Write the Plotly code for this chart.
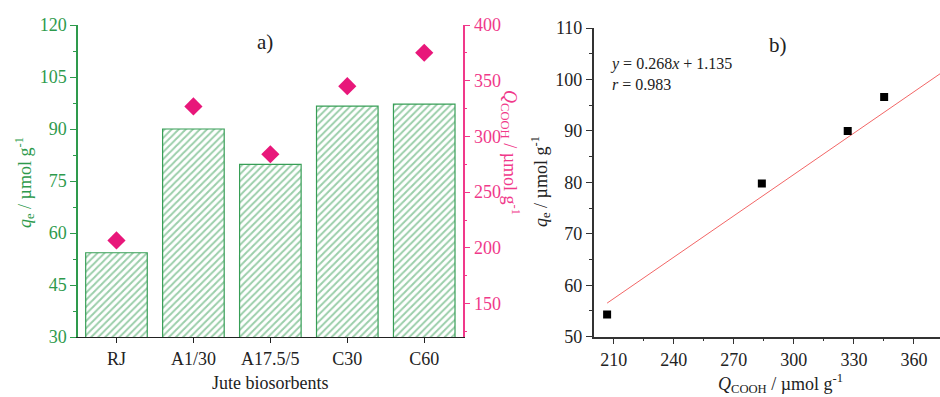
import plotly.graph_objects as go

# Jute biosorbents: sorption capacity and carboxyl content
categories = ["RJ", "A1/30", "A17.5/5", "C30", "C60"]
qe = [54.3, 90.0, 79.8, 96.6, 97.2]          # q_e, µmol/g
q_cooh = [206.7, 326.9, 284.0, 345.1, 375.1]  # Q_COOH, µmol/g

# Linear fit reported for panel b
fit_slope = 0.268
fit_intercept = 1.135
fit_r = 0.983

W, H = 940, 397
FONT = "Liberation Serif"
GREEN = "#2e9a4c"
HATCH = "#379e56"
PINK = "#f0398a"
DIAMOND = "#e8177a"
DARK = "#222222"
FIT = "#f26666"


def px(x):
    return x / W


def py(y):
    return 1 - y / H


fig = go.Figure()

# Panel a: hatched bars for q_e
fig.add_trace(go.Bar(
    x=categories, y=qe, xaxis="x", yaxis="y", width=0.8,
    marker=dict(color="white", line=dict(color=HATCH, width=1.2),
                pattern=dict(shape="/", fgcolor=HATCH, bgcolor="white",
                             size=5, solidity=0.4)),
    showlegend=False,
))
# Panel a: diamonds for Q_COOH on the secondary axis
fig.add_trace(go.Scatter(
    x=categories, y=q_cooh, xaxis="x", yaxis="y3", mode="markers",
    marker=dict(symbol="diamond", size=14, color=DIAMOND),
    showlegend=False,
))

# Panel b: q_e versus Q_COOH with the fitted line
x_end = 373
fit_x = [min(q_cooh), x_end]
fit_y = [fit_slope * v + fit_intercept for v in fit_x]
fig.add_trace(go.Scatter(
    x=fit_x, y=fit_y, xaxis="x2", yaxis="y2", mode="lines",
    line=dict(color=FIT, width=1), showlegend=False,
))
fig.add_trace(go.Scatter(
    x=q_cooh, y=qe, xaxis="x2", yaxis="y2", mode="markers",
    marker=dict(symbol="square", size=8, color="black"),
    showlegend=False,
))

tickfont = dict(family=FONT, size=18)

fig.update_layout(
    width=W, height=H,
    margin=dict(l=0, r=0, t=0, b=0, autoexpand=False),
    paper_bgcolor="white", plot_bgcolor="white",
    bargap=0.2,
    xaxis=dict(
        domain=[px(78), px(462.7)], anchor="y", range=[-0.5, 4.5],
        showline=True, linecolor=DARK, linewidth=1.2,
        ticks="outside", ticklen=5, tickcolor=DARK,
        tickfont=dict(tickfont, color=DARK), showgrid=False, zeroline=False,
        automargin=False,
    ),
    yaxis=dict(
        domain=[py(337), py(25)], anchor="x", range=[30, 120],
        tick0=30, dtick=15,
        showline=True, linecolor=GREEN, linewidth=1.5,
        ticks="outside", ticklen=6, tickcolor=GREEN,
        tickfont=dict(tickfont, color=GREEN),
        minor=dict(dtick=7.5, ticks="outside", ticklen=3, tickcolor=GREEN),
        showgrid=False, zeroline=False, automargin=False,
    ),
    yaxis3=dict(
        domain=[py(337), py(25)], anchor="x", overlaying="y", side="right",
        range=[120, 400], tick0=150, dtick=50,
        showline=True, linecolor=PINK, linewidth=1.5,
        ticks="outside", ticklen=6, tickcolor=PINK,
        tickfont=dict(tickfont, color=PINK),
        minor=dict(tick0=125, dtick=25, ticks="outside", ticklen=3, tickcolor=PINK),
        showgrid=False, zeroline=False, automargin=False,
    ),
    xaxis2=dict(
        domain=[px(593.7), 1.0], anchor="y2", range=[200, x_end],
        tick0=210, dtick=30,
        showline=True, linecolor="#333333", linewidth=1.5,
        ticks="outside", ticklen=6, tickcolor="#333333",
        tickfont=dict(tickfont, color=DARK),
        minor=dict(tick0=195, dtick=15, ticks="outside", ticklen=3, tickcolor="#333333"),
        showgrid=False, zeroline=False, automargin=False,
    ),
    yaxis2=dict(
        domain=[py(336.7), py(28)], anchor="x2", range=[50, 110],
        tick0=50, dtick=10,
        showline=True, linecolor="#333333", linewidth=1.5,
        ticks="outside", ticklen=6, tickcolor="#333333",
        tickfont=dict(tickfont, color=DARK),
        minor=dict(dtick=5, ticks="outside", ticklen=3, tickcolor="#333333"),
        showgrid=False, zeroline=False, automargin=False,
    ),
)

annotations = [
    dict(text="a)", x=px(265), y=py(42), size=21, color=DARK),
    dict(text="b)", x=px(778), y=py(45), size=21, color=DARK),
    dict(text="Jute biosorbents", x=px(270), y=py(383), size=18, color=DARK),
    dict(text="<i>Q</i><sub>COOH</sub> / µmol g<sup>-1</sup>",
         x=px(780), y=py(383), size=18, color=DARK),
    dict(text="<i>q</i><sub>e</sub> / µmol g<sup>-1</sup>",
         x=px(24), y=py(183), size=18, color=GREEN, angle=-90),
    dict(text="<i>Q</i><sub>COOH</sub> / µmol g<sup>-1</sup>",
         x=px(511), y=py(152), size=18, color=PINK, angle=90),
    dict(text="<i>q</i><sub>e</sub> / µmol g<sup>-1</sup>",
         x=px(541), y=py(182), size=18, color=DARK, angle=-90),
]
for a in annotations:
    fig.add_annotation(
        text=a["text"], x=a["x"], y=a["y"], xref="paper", yref="paper",
        showarrow=False, textangle=a.get("angle", 0),
        font=dict(family=FONT, size=a["size"], color=a["color"]),
        xanchor="center", yanchor="middle",
    )

# Fit equation and correlation coefficient
fig.add_annotation(
    text=f"<i>y</i> = {fit_slope}<i>x</i> + {fit_intercept}<br><i>r</i> = {fit_r}",
    x=px(608), y=py(74), xref="paper", yref="paper", showarrow=False,
    xanchor="left", yanchor="middle", align="left",
    font=dict(family=FONT, size=16, color=DARK),
)

fig.write_html("out.html")
